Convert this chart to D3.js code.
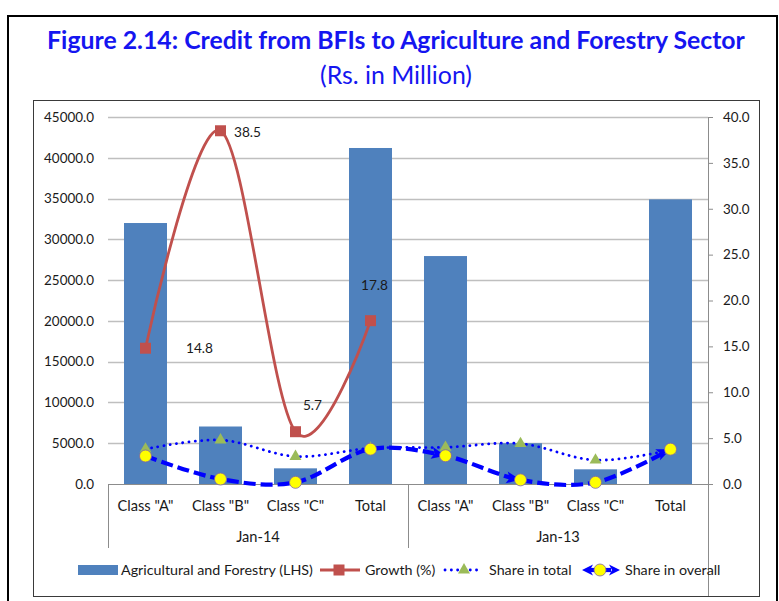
<!DOCTYPE html>
<html>
<head>
<meta charset="utf-8">
<script src="https://cdn.jsdelivr.net/npm/d3@7"></script>
<style>
  html, body { margin: 0; padding: 0; background: #fff; }
  svg { display: block; }
  text { font-family: Lato, "Open Sans", sans-serif; }
</style>
</head>
<body>
<svg id="chart" width="779" height="601"></svg>
<script>
// ---------------- data ----------------
const categories = ['Class "A"', 'Class "B"', 'Class "C"', 'Total', 'Class "A"', 'Class "B"', 'Class "C"', 'Total'];
const groups = ['Jan-14', 'Jan-13'];
const agriForestry = [32000, 7050, 1920, 41200, 27950, 5000, 1800, 34900];   // LHS
const growth = [14.8, 38.5, 5.7, 17.8];                                        // RHS, Jan-14 only
const shareInTotal = [3.8, 4.8, 3.0, 3.9, 4.0, 4.4, 2.6, 3.7];                // RHS
const shareInOverall = [3.05, 0.54, 0.18, 3.8, 3.08, 0.45, 0.18, 3.8];        // RHS
const leftTicks = [0, 5000, 10000, 15000, 20000, 25000, 30000, 35000, 40000, 45000];
const rightTicks = [0, 5, 10, 15, 20, 25, 30, 35, 40];
const titleText = "Figure 2.14: Credit from BFIs to Agriculture and Forestry Sector";
const subtitleText = "(Rs. in Million)";
const legendLabels = ["Agricultural and Forestry (LHS)", "Growth (%)", "Share in total", "Share in overall"];

// ---------------- styles / layout ----------------
const C = { bar: "#4F81BD", growth: "#C0504D", tri: "#9BBB59", blue: "#0000FF", circ: "#FFFF00", circStroke: "#8064A2", grid: "#BFBFBF", axis: "#8C8C8C", text: "#1a1a1a", title: "#1515F0" };
const plot = { left: 108, right: 708, top: 117, bottom: 484 };
const growthLabelOffsets = [[54, 0], [27, 1], [17, -26], [4, -35]];
const arrowAt = [4, 5, 7];
const FONT = "Lato, sans-serif";

const svg = d3.select("#chart");

// font sizing helper: size so that a sample string reaches a given width
function fitSize(sample, width, weight) {
  const t = svg.append("text").attr("font-family", FONT).attr("font-size", 100)
    .attr("font-weight", weight || "normal").text(sample);
  const w = t.node().getComputedTextLength();
  t.remove();
  return 100 * width / w;
}
const fsTick = fitSize("45000.0", 50);
const fsCat = fitSize('Class "A"', 56);
const fsLegend = fitSize("Agricultural and Forestry (LHS)", 192);
const fsLabel = fitSize("38.5", 27);
const fsSub = fitSize(subtitleText, 152);
const fsTitle = fitSize(titleText, 698, "bold");

// frames
svg.append("rect").attr("x", 8).attr("y", 16).attr("width", 769).attr("height", 620)
  .attr("fill", "none").attr("stroke", "#000").attr("stroke-width", 2);
svg.append("rect").attr("x", 33.5).attr("y", 100.5).attr("width", 726).attr("height", 496)
  .attr("fill", "none").attr("stroke", "#3a3a3a").attr("stroke-width", 1);

// titles
svg.append("text").attr("x", 396).attr("y", 40).attr("dy", "0.35em").attr("text-anchor", "middle")
  .attr("fill", C.title).attr("font-weight", "bold").attr("font-size", fsTitle).text(titleText);
svg.append("text").attr("x", 396).attr("y", 75).attr("dy", "0.35em").attr("text-anchor", "middle")
  .attr("fill", C.title).attr("font-size", fsSub).text(subtitleText);

// scales
const x = d3.scaleBand().domain(d3.range(categories.length)).range([plot.left, plot.right]).padding(0);
const yL = d3.scaleLinear().domain([0, 45000]).range([plot.bottom, plot.top]);
const yR = d3.scaleLinear().domain([0, 40]).range([plot.bottom, plot.top]);
const cx = i => x(i) + x.bandwidth() / 2;

// gridlines
svg.append("g").selectAll("line").data(leftTicks.filter(d => d > 0)).join("line")
  .attr("x1", plot.left).attr("x2", plot.right)
  .attr("y1", d => Math.round(yL(d)) + 0.5).attr("y2", d => Math.round(yL(d)) + 0.5)
  .attr("stroke", C.grid).attr("stroke-width", 1.3);

// left axis labels
const gl = svg.append("g").attr("transform", `translate(${plot.left},0)`)
  .call(d3.axisLeft(yL).tickValues(leftTicks).tickFormat(d3.format(".1f")).tickSize(0).tickPadding(14));
gl.select(".domain").remove();
gl.selectAll("text").attr("font-size", fsTick).attr("fill", C.text).attr("font-family", FONT);

// right axis
const gr = svg.append("g").attr("transform", `translate(${plot.right},0)`)
  .call(d3.axisRight(yR).tickValues(rightTicks).tickFormat(d3.format(".1f")).tickSize(5).tickPadding(10));
gr.select(".domain").attr("d", `M0.5,${plot.top}V596`).attr("stroke", C.axis);
gr.selectAll(".tick line").attr("stroke", C.axis);
gr.selectAll("text").attr("font-size", fsTick).attr("fill", C.text).attr("font-family", FONT);

// bars
const barW = 43;
svg.append("g").selectAll("rect").data(agriForestry).join("rect")
  .attr("x", (d, i) => cx(i) - barW / 2).attr("width", barW)
  .attr("y", d => yL(d)).attr("height", d => yL(0) - yL(d)).attr("fill", C.bar);

// category axis
svg.append("line").attr("x1", plot.left).attr("x2", plot.right).attr("y1", plot.bottom + 0.5).attr("y2", plot.bottom + 0.5)
  .attr("stroke", C.axis).attr("stroke-width", 1);
const groupEdges = [0, 4, 8];
svg.append("g").selectAll("line").data(groupEdges).join("line")
  .attr("x1", d => (d < 8 ? x(d) : plot.right) + 0.5).attr("x2", d => (d < 8 ? x(d) : plot.right) + 0.5)
  .attr("y1", plot.bottom).attr("y2", 548).attr("stroke", C.axis);
svg.append("g").selectAll("text").data(categories).join("text")
  .attr("x", (d, i) => cx(i)).attr("y", 506).attr("dy", "0.35em").attr("text-anchor", "middle")
  .attr("font-size", fsCat).attr("fill", C.text).text(d => d);
svg.append("g").selectAll("text").data(groups).join("text")
  .attr("x", (d, g) => (x(g * 4) + (g * 4 + 4 < 8 ? x(g * 4 + 4) : plot.right)) / 2).attr("y", 537).attr("dy", "0.35em")
  .attr("text-anchor", "middle").attr("font-size", fsCat).attr("fill", C.text).text(d => d);

// lines
const curve = d3.curveCardinal.tension(0);
const lineR = vals => d3.line().x((d, i) => cx(i)).y(d => yR(d)).curve(curve)(vals);

svg.append("path").attr("d", lineR(growth)).attr("fill", "none").attr("stroke", C.growth).attr("stroke-width", 2.8);
svg.append("path").attr("d", lineR(shareInTotal)).attr("fill", "none").attr("stroke", C.blue)
  .attr("stroke-width", 2.8).attr("stroke-dasharray", "0.1,6.2").attr("stroke-linecap", "round");
svg.append("path").attr("d", lineR(shareInOverall)).attr("fill", "none").attr("stroke", C.blue)
  .attr("stroke-width", 4.2).attr("stroke-dasharray", "12,5");

// arrowheads on share in overall
const pts = shareInOverall.map((d, i) => [cx(i), yR(d)]);
function arrowPath(px, py, ang, len, hw) {
  const ca = Math.cos(ang), sa = Math.sin(ang);
  const bx = px - ca * len, by = py - sa * len;
  const nx = bx + ca * 3, ny = by + sa * 3;
  return `M${px},${py}L${bx - sa * hw},${by + ca * hw}L${nx},${ny}L${bx + sa * hw},${by - ca * hw}Z`;
}
svg.append("g").selectAll("path").data(arrowAt).join("path")
  .attr("d", i => {
    const p = pts[i], a = pts[i - 1], b = i + 1 < pts.length ? pts[i + 1] : pts[i];
    const ang = Math.atan2(b[1] - a[1], b[0] - a[0]);
    return arrowPath(p[0], p[1], ang, 14, 6);
  }).attr("fill", C.blue);

// markers: triangles
const triSym = d3.symbol().type(d3.symbolTriangle).size(62);
svg.append("g").selectAll("path").data(shareInTotal).join("path")
  .attr("transform", (d, i) => `translate(${cx(i)},${yR(d)})`).attr("d", triSym()).attr("fill", C.tri);
// circles
svg.append("g").selectAll("circle").data(shareInOverall).join("circle")
  .attr("cx", (d, i) => cx(i)).attr("cy", d => yR(d)).attr("r", 6)
  .attr("fill", C.circ).attr("stroke", C.circStroke).attr("stroke-width", 0.8);
// squares
svg.append("g").selectAll("rect").data(growth).join("rect")
  .attr("x", (d, i) => cx(i) - 5.5).attr("y", d => yR(d) - 5.5).attr("width", 11).attr("height", 11).attr("fill", C.growth);
// growth labels
svg.append("g").selectAll("text").data(growth).join("text")
  .attr("x", (d, i) => cx(i) + growthLabelOffsets[i][0]).attr("y", (d, i) => yR(d) + growthLabelOffsets[i][1])
  .attr("dy", "0.35em").attr("text-anchor", "middle").attr("font-size", fsLabel).attr("fill", C.text)
  .text(d => d3.format(".1f")(d));

// legend
const ly = 570;
const lg = svg.append("g");
lg.append("rect").attr("x", 78).attr("y", ly - 5).attr("width", 40).attr("height", 10).attr("fill", C.bar);
lg.append("line").attr("x1", 320).attr("x2", 360).attr("y1", ly).attr("y2", ly).attr("stroke", C.growth).attr("stroke-width", 2.8);
lg.append("rect").attr("x", 339 - 5.5).attr("y", ly - 5.5).attr("width", 11).attr("height", 11).attr("fill", C.growth);
lg.append("line").attr("x1", 445).attr("x2", 482).attr("y1", ly).attr("y2", ly).attr("stroke", C.blue)
  .attr("stroke-width", 2.8).attr("stroke-dasharray", "0.1,6.2").attr("stroke-linecap", "round");
lg.append("path").attr("transform", `translate(464,${ly})`).attr("d", triSym()).attr("fill", C.tri);
lg.append("line").attr("x1", 590).attr("x2", 611).attr("y1", ly).attr("y2", ly).attr("stroke", C.blue).attr("stroke-width", 4.2);
lg.append("path").attr("d", arrowPath(582, ly, Math.PI, 11, 5.5)).attr("fill", C.blue);
lg.append("path").attr("d", arrowPath(620, ly, 0, 11, 5.5)).attr("fill", C.blue);
lg.append("circle").attr("cx", 600).attr("cy", ly).attr("r", 6).attr("fill", C.circ).attr("stroke", C.circStroke).attr("stroke-width", 0.8);
const legendX = [121, 365, 489, 625];
lg.selectAll("text.leg").data(legendLabels).join("text").attr("class", "leg")
  .attr("x", (d, i) => legendX[i]).attr("y", ly).attr("dy", "0.35em").attr("font-size", fsLegend).attr("fill", C.text).text(d => d);
</script>
</body>
</html>
